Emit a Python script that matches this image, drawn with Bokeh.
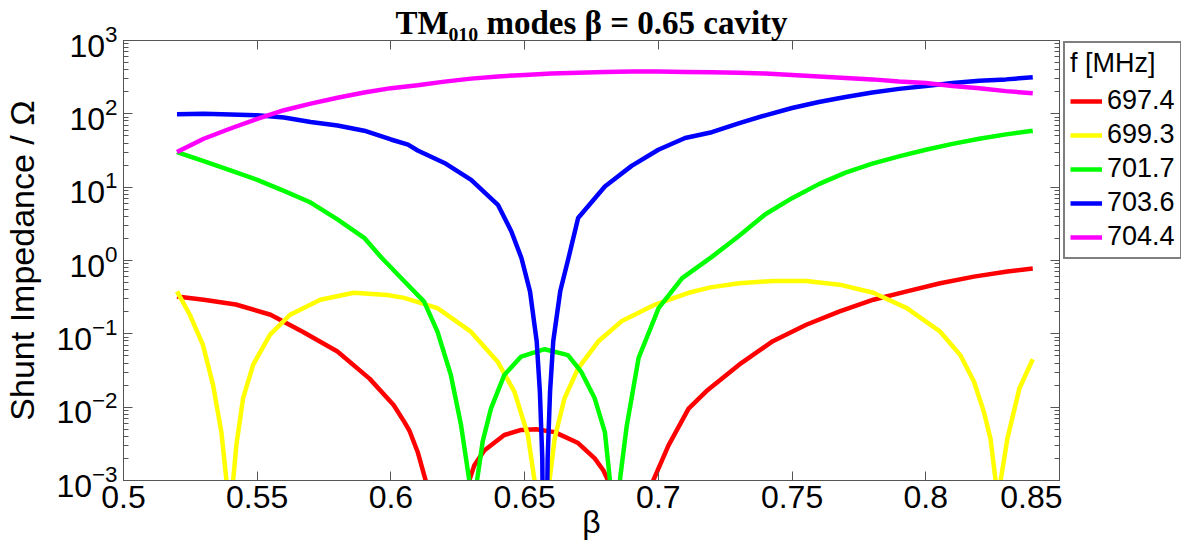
from bokeh.plotting import figure
from bokeh.layouts import row
from bokeh.models import (Range1d, LinearAxis, LogAxis, FixedTicker, LogTicker,
                          Legend, LegendItem, CustomJSTickFormatter)
from bokeh.embed import file_html
from bokeh.resources import INLINE

# ---------------- data ----------------
x_ticks = [0.5, 0.55, 0.6, 0.65, 0.7, 0.75, 0.8, 0.85]
x_tick_labels = ["0.5", "0.55", "0.6", "0.65", "0.7", "0.75", "0.8", "0.85"]

freq_labels = ["697.4", "699.3", "701.7", "703.6", "704.4"]
line_colors = ["#FF0000", "#FFFF00", "#00FF00", "#0000FF", "#FF00FF"]

beta_697_4 = [0.520, 0.530, 0.542, 0.555, 0.567, 0.580, 0.592, 0.601, 0.605, 0.607,
              0.610, 0.613, 0.6145, 0.621, 0.6285, 0.6293, 0.6312, 0.6349, 0.6424,
              0.6487, 0.6543, 0.6612, 0.6700, 0.6762, 0.6794, 0.6812, 0.682, 0.690,
              0.697, 0.6981, 0.7038, 0.7113, 0.718, 0.7302, 0.7428, 0.7553, 0.7678,
              0.7804, 0.7929, 0.8054, 0.8180, 0.8305, 0.840]
z_697_4 = [0.324, 0.292, 0.251, 0.182, 0.107, 0.0575, 0.0245, 0.0107, 0.0063, 0.0047,
           0.00245, 0.001, 1e-5, 1e-4, 1e-5, 0.001, 0.00162, 0.00257, 0.00417,
           0.0049, 0.0050, 0.00457, 0.00324, 0.0020, 0.00138, 0.001, 1e-5, 1e-4,
           1e-5, 0.001, 0.00302, 0.00955, 0.0166, 0.038, 0.0794, 0.133, 0.202,
           0.292, 0.380, 0.490, 0.603, 0.708, 0.776]

beta_699_3 = [0.520, 0.5248, 0.5297, 0.5335, 0.5366, 0.5385, 0.5395, 0.5410, 0.5422,
              0.5447, 0.5485, 0.5548, 0.5623, 0.5736, 0.5861, 0.5986, 0.6049, 0.6174,
              0.6299, 0.6399, 0.6462, 0.6512, 0.6537, 0.6565, 0.6593, 0.6612, 0.6649,
              0.6700, 0.6775, 0.6862, 0.6988, 0.7113, 0.7195, 0.7302, 0.7428, 0.7553,
              0.7678, 0.7804, 0.7929, 0.8054, 0.8129, 0.8180, 0.8217, 0.8242, 0.8261,
              0.8270, 0.8280, 0.8305, 0.835, 0.840]
z_699_3 = [0.380, 0.182, 0.0708, 0.020, 0.00457, 0.001, 1e-5, 0.001, 0.00302,
           0.0132, 0.038, 0.0977, 0.182, 0.292, 0.363, 0.339, 0.309, 0.224,
           0.107, 0.0417, 0.0162, 0.00417, 0.001, 1e-6, 0.001, 0.0037, 0.0132,
           0.0339, 0.0785, 0.148, 0.251, 0.363, 0.43, 0.49, 0.525, 0.525,
           0.468, 0.363, 0.224, 0.107, 0.0513, 0.0224, 0.0087, 0.0037, 0.001,
           1e-6, 0.001, 0.0037, 0.018, 0.045]

beta_701_7 = [0.520, 0.530, 0.540, 0.550, 0.560, 0.570, 0.580, 0.590, 0.5966, 0.6049,
              0.6124, 0.6174, 0.6224, 0.6262, 0.6293, 0.6305, 0.6322, 0.6343, 0.6374,
              0.6424, 0.6487, 0.6575, 0.6662, 0.6712, 0.6762, 0.6800, 0.6819, 0.6833,
              0.6857, 0.6882, 0.6926, 0.7001, 0.7089, 0.720, 0.730, 0.740, 0.750,
              0.760, 0.770, 0.780, 0.790, 0.800, 0.810, 0.820, 0.830, 0.840]
z_701_7 = [30.1, 22.6, 17.0, 12.6, 8.91, 6.17, 3.63, 2.04, 1.08, 0.525,
           0.275, 0.107, 0.0275, 0.00575, 0.001, 1e-6, 0.001, 0.00339, 0.00955,
           0.0275, 0.049, 0.0617, 0.0513, 0.0302, 0.0132, 0.00457, 0.001, 1e-6,
           0.00107, 0.00562, 0.0468, 0.224, 0.575, 1.12, 2.14, 4.27, 7.08,
           11.0, 15.8, 20.9, 26.3, 32.4, 38.9, 45.7, 52.5, 58.9]

beta_703_6 = [0.520, 0.530, 0.540, 0.550, 0.560, 0.570, 0.580, 0.590, 0.600, 0.6064,
              0.610, 0.620, 0.630, 0.640, 0.645, 0.6488, 0.6520, 0.6545, 0.6557,
              0.6566, 0.6575, 0.6586, 0.6595, 0.6607, 0.6633, 0.6664, 0.670, 0.680,
              0.690, 0.700, 0.710, 0.720, 0.730, 0.740, 0.750, 0.760, 0.770, 0.780,
              0.790, 0.800, 0.810, 0.820, 0.830, 0.840]
z_703_6 = [98.4, 100.0, 97.7, 95.5, 89.1, 77.6, 69.2, 58.9, 44.7, 38.0,
           31.6, 21.4, 12.6, 5.75, 2.51, 1.08, 0.38, 0.0794, 0.0162,
           0.0020, 1e-6, 0.0020, 0.0162, 0.0794, 0.38, 1.08, 3.8, 10.2,
           19.5, 32.4, 46.8, 56.2, 74.1, 95.5, 120.0, 145.0, 170.0, 195.0,
           219.0, 240.0, 263.0, 282.0, 295.0, 316.0]

beta_704_4 = [0.520, 0.530, 0.540, 0.550, 0.560, 0.570, 0.580, 0.590, 0.600, 0.610,
              0.620, 0.630, 0.640, 0.650, 0.660, 0.670, 0.680, 0.690, 0.700, 0.710,
              0.720, 0.730, 0.740, 0.750, 0.760, 0.770, 0.780, 0.790, 0.800, 0.810,
              0.820, 0.830, 0.840]
z_704_4 = [30.1, 45.7, 63.1, 85.1, 112.0, 138.0, 166.0, 195.0, 224.0, 245.0,
           275.0, 302.0, 324.0, 339.0, 355.0, 363.0, 372.0, 377.0, 377.0, 372.0,
           369.0, 363.0, 355.0, 339.0, 324.0, 309.0, 295.0, 275.0, 263.0, 240.0,
           224.0, 204.0, 191.0]

series_beta = [beta_697_4, beta_699_3, beta_701_7, beta_703_6, beta_704_4]
series_z = [z_697_4, z_699_3, z_701_7, z_703_6, z_704_4]

# ---------------- main figure ----------------
AX = "#555555"
FONT = "Liberation Sans"

p = figure(width=1062, height=542, x_range=Range1d(0.5, 0.85),
           y_range=Range1d(1e-3, 1e3), y_axis_type="log",
           output_backend="svg", toolbar_location=None,
           min_border_left=123, min_border_right=3,
           min_border_top=33, min_border_bottom=62)
p.xgrid.visible = False
p.ygrid.visible = False
p.outline_line_color = AX
p.background_fill_color = "white"
p.border_fill_color = "white"

p.title.text = "TM\u2080\u2081\u2080 modes \u03b2 = 0.65 cavity"
p.title.text_font = "Liberation Serif"
p.title.text_font_style = "bold"
p.title.text_font_size = "33px"
p.title.text_color = "black"
p.title.align = "center"
p.title.standoff = 0


def style_axis(ax):
    ax.axis_line_color = AX
    ax.major_tick_line_color = AX
    ax.minor_tick_line_color = AX
    ax.major_tick_in = 9
    ax.major_tick_out = 0
    ax.minor_tick_in = 5
    ax.minor_tick_out = 0
    ax.major_label_text_font = FONT
    ax.major_label_text_color = "black"
    ax.major_label_text_font_size = "32px"


xa = p.xaxis[0]
xa.ticker = FixedTicker(ticks=x_ticks)
xa.major_label_overrides = dict(zip(x_ticks, x_tick_labels))
style_axis(xa)
xa.major_label_standoff = 5
xa.axis_label = "\u03b2"
xa.axis_label_text_font = FONT
xa.axis_label_text_font_size = "32px"
xa.axis_label_text_font_style = "normal"
xa.axis_label_text_color = "black"
xa.axis_label_standoff = -7

ya = p.yaxis[0]
ya.ticker = LogTicker(num_minor_ticks=10)
style_axis(ya)
ya.major_label_standoff = 6
ya.axis_label = "Shunt Impedance / \u03a9"
ya.axis_label_text_font = FONT
ya.axis_label_text_font_size = "34px"
ya.axis_label_text_font_style = "normal"
ya.axis_label_text_color = "black"
ya.axis_label_standoff = 12

blank = CustomJSTickFormatter(code="return ''")

top = LinearAxis(ticker=FixedTicker(ticks=x_ticks), formatter=blank)
style_axis(top)
top.major_label_standoff = 0
top.axis_label_standoff = 0
p.add_layout(top, "above")

right = LogAxis(ticker=LogTicker(num_minor_ticks=10), formatter=blank)
style_axis(right)
right.major_label_standoff = 0
right.axis_label_standoff = 0
p.add_layout(right, "right")

for b, z, c in zip(series_beta, series_z, line_colors):
    p.line(b, z, line_color=c, line_width=4.5, line_join="round")

# ---------------- legend panel (right of the axes) ----------------
# its own ranges lie far from the data, so its copies of the series stay hidden
pl = figure(width=119, height=542, x_range=Range1d(10, 11), y_range=Range1d(1e5, 1e6),
            output_backend="svg", toolbar_location=None,
            x_axis_location=None, y_axis_location=None,
            min_border_left=0, min_border_right=0,
            min_border_top=40, min_border_bottom=0)
pl.grid.visible = False
pl.outline_line_color = None
pl.background_fill_color = "white"
pl.border_fill_color = "white"

leg_renderers = [pl.line(b, z, line_color=c, line_width=4.5)
                 for b, z, c in zip(series_beta, series_z, line_colors)]
legend = Legend(items=[LegendItem(label=f, renderers=[r])
                       for f, r in zip(freq_labels, leg_renderers)],
                title="f [MHz]", location="top_left")
legend.title_text_font = FONT
legend.title_text_font_size = "27px"
legend.title_text_font_style = "normal"
legend.title_text_color = "black"
legend.label_text_font = FONT
legend.label_text_font_size = "27px"
legend.label_text_color = "black"
legend.border_line_color = "black"
legend.border_line_width = 2
legend.background_fill_alpha = 1.0
legend.glyph_width = 32
legend.glyph_height = 30
legend.label_height = 30
legend.label_standoff = 5
legend.spacing = 3
legend.padding = 5
legend.margin = 1
legend.title_standoff = 6
pl.add_layout(legend)

layout = row(p, pl)
open("out.html", "w").write(file_html(layout, INLINE))
